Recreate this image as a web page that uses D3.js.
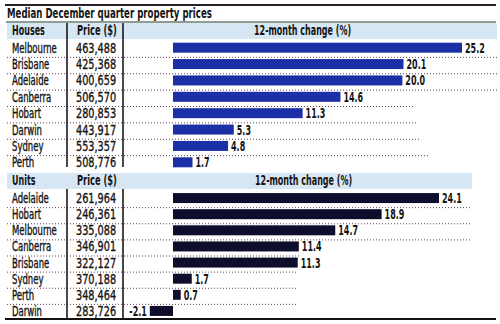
<!DOCTYPE html>
<html>
<head>
<meta charset="utf-8">
<script src="https://cdn.jsdelivr.net/npm/d3@7"></script>
<style>
  html, body { margin: 0; padding: 0; background: #fff; }
  svg { display: block; }
  text { font-family: "DejaVu Sans Condensed", "Liberation Sans Narrow", sans-serif; fill: #141414; }
</style>
</head>
<body>
<script>
// Median December quarter property prices, by city
const title = "Median December quarter property prices";

const houseCities = ["Melbourne", "Brisbane", "Adelaide", "Canberra", "Hobart", "Darwin", "Sydney", "Perth"];
const housePrices = ["463,488", "425,368", "400,659", "506,570", "280,853", "443,917", "553,357", "508,776"];
const houseChange = [25.2, 20.1, 20.0, 14.6, 11.3, 5.3, 4.8, 1.7];

const unitCities = ["Adelaide", "Hobart", "Melbourne", "Canberra", "Brisbane", "Sydney", "Perth", "Darwin"];
const unitPrices = ["261,964", "246,361", "335,088", "346,901", "322,127", "370,188", "348,464", "283,726"];
const unitChange = [24.1, 18.9, 14.7, 11.4, 11.3, 1.7, 0.7, -2.1];

const headers = {
  houses: ["Houses", "Price ($)", "12-month change (%)"],
  units: ["Units", "Price ($)", "12-month change (%)"]
};

const W = 500, H = 324;
const svg = d3.select("body").append("svg").attr("width", W).attr("height", H);

const fmt = d3.formatLocale({ decimal: ".", thousands: ",", grouping: [3], currency: ["$", ""], minus: "-" }).format(".1f");

// horizontal squeeze factors to imitate a tightly condensed newspaper face
const FS = 13.5;
const SQ = { bold: 0.66, name: 0.70, price: 0.80, title: 0.71, priceHead: 0.685 };

function txt(g, x, y, s, o = {}) {
  const sx = o.sx || (o.bold ? SQ.bold : SQ.name);
  const t = g.append("text")
    .attr("transform", `translate(${x},${y}) scale(${sx},1)`)
    .attr("text-anchor", o.anchor || "start")
    .attr("font-size", o.size || FS)
    .attr("font-weight", o.bold ? 700 : 400)
    .text(s);
  if (!o.bold) t.attr("stroke", "#141414").attr("stroke-width", 0.35);
  return t;
}

// Frame rules
svg.append("rect").attr("x", 5).attr("y", 4).attr("width", 491).attr("height", 2).attr("fill", "#2a1f2a");
txt(svg, 7, 18, title, { bold: true, size: FS, sx: SQ.title });
svg.append("line").attr("x1", 6).attr("x2", 496).attr("y1", 22).attr("y2", 22)
  .attr("stroke", "#1f3a26").attr("stroke-width", 1.2);
svg.append("rect").attr("x", 5).attr("y", 318).attr("width", 491).attr("height", 2).attr("fill", "#111");

const colName = 12, colPrice = 76, div1 = 67, div2 = 123;

function panel(cfg) {
  const g = svg.append("g");
  const y = d3.scaleBand().domain(cfg.cities).range(cfg.rows).paddingInner(0).paddingOuter(0);
  const x = d3.scaleLinear().domain([0, cfg.maxVal]).range([173, cfg.maxX]);
  const bh = 10;

  // header band
  g.append("rect").attr("x", 7).attr("y", cfg.head[0]).attr("width", cfg.headW)
    .attr("height", cfg.head[1] - cfg.head[0]).attr("fill", "#d7e6f3");
  const hy = cfg.head[1] - 4;
  txt(g, colName, hy, cfg.header[0], { bold: true });
  txt(g, colPrice + 1, hy, cfg.header[1], { bold: true, sx: SQ.priceHead });
  txt(g, cfg.changeX, hy, cfg.header[2], { bold: true });

  // dotted row separators
  cfg.cities.forEach((c, i) => {
    if (i === cfg.cities.length - 1) return;
    const yy = y(c) + y.bandwidth() + 1.5;
    g.append("line").attr("x1", 7).attr("x2", cfg.dotEnd[i]).attr("y1", yy).attr("y2", yy)
      .attr("stroke", "#5e4656").attr("stroke-width", 1).attr("stroke-dasharray", "1,2");
  });

  // column dividers
  [div1, div2].forEach(dx => {
    g.append("line").attr("x1", dx).attr("x2", dx).attr("y1", cfg.divY[0]).attr("y2", cfg.divY[1])
      .attr("stroke", "#1a1a1a").attr("stroke-width", 1.6);
  });

  // bars
  g.selectAll("rect.bar").data(cfg.change).join("rect").attr("class", "bar")
    .attr("x", d => Math.min(x(0), x(d)))
    .attr("width", d => Math.abs(x(d) - x(0)))
    .attr("y", (d, i) => y(cfg.cities[i]) + y.bandwidth() / 2 - bh / 2)
    .attr("height", bh)
    .attr("fill", cfg.color);

  cfg.cities.forEach((c, i) => {
    const base = y(c) + y.bandwidth() / 2 + 5;
    txt(g, colName, base, c);
    txt(g, colPrice, base, cfg.prices[i], { sx: SQ.price });
    const v = cfg.change[i];
    if (v >= 0) txt(g, x(v) + 3, base, fmt(v), { bold: true });
    else txt(g, x(v) - 3, base, fmt(v), { bold: true, anchor: "end" });
  });
}

panel({
  cities: houseCities, prices: housePrices, change: houseChange, header: headers.houses,
  rows: [39.5, 170.5], maxVal: 25.2, maxX: 462, color: "#1b2fa6",
  head: [23, 39], headW: 490, changeX: 254, divY: [23, 167],
  dotEnd: [497, 497, 497, 415, 417, 420, 430]
});

panel({
  cities: unitCities, prices: unitPrices, change: unitChange, header: headers.units,
  rows: [190, 319], maxVal: 24.1, maxX: 439, color: "#0e0e2c",
  head: [173, 189], headW: 465, changeX: 255, divY: [189, 318],
  dotEnd: [470, 470, 470, 300, 298, 296, 298]
});
</script>
</body>
</html>
